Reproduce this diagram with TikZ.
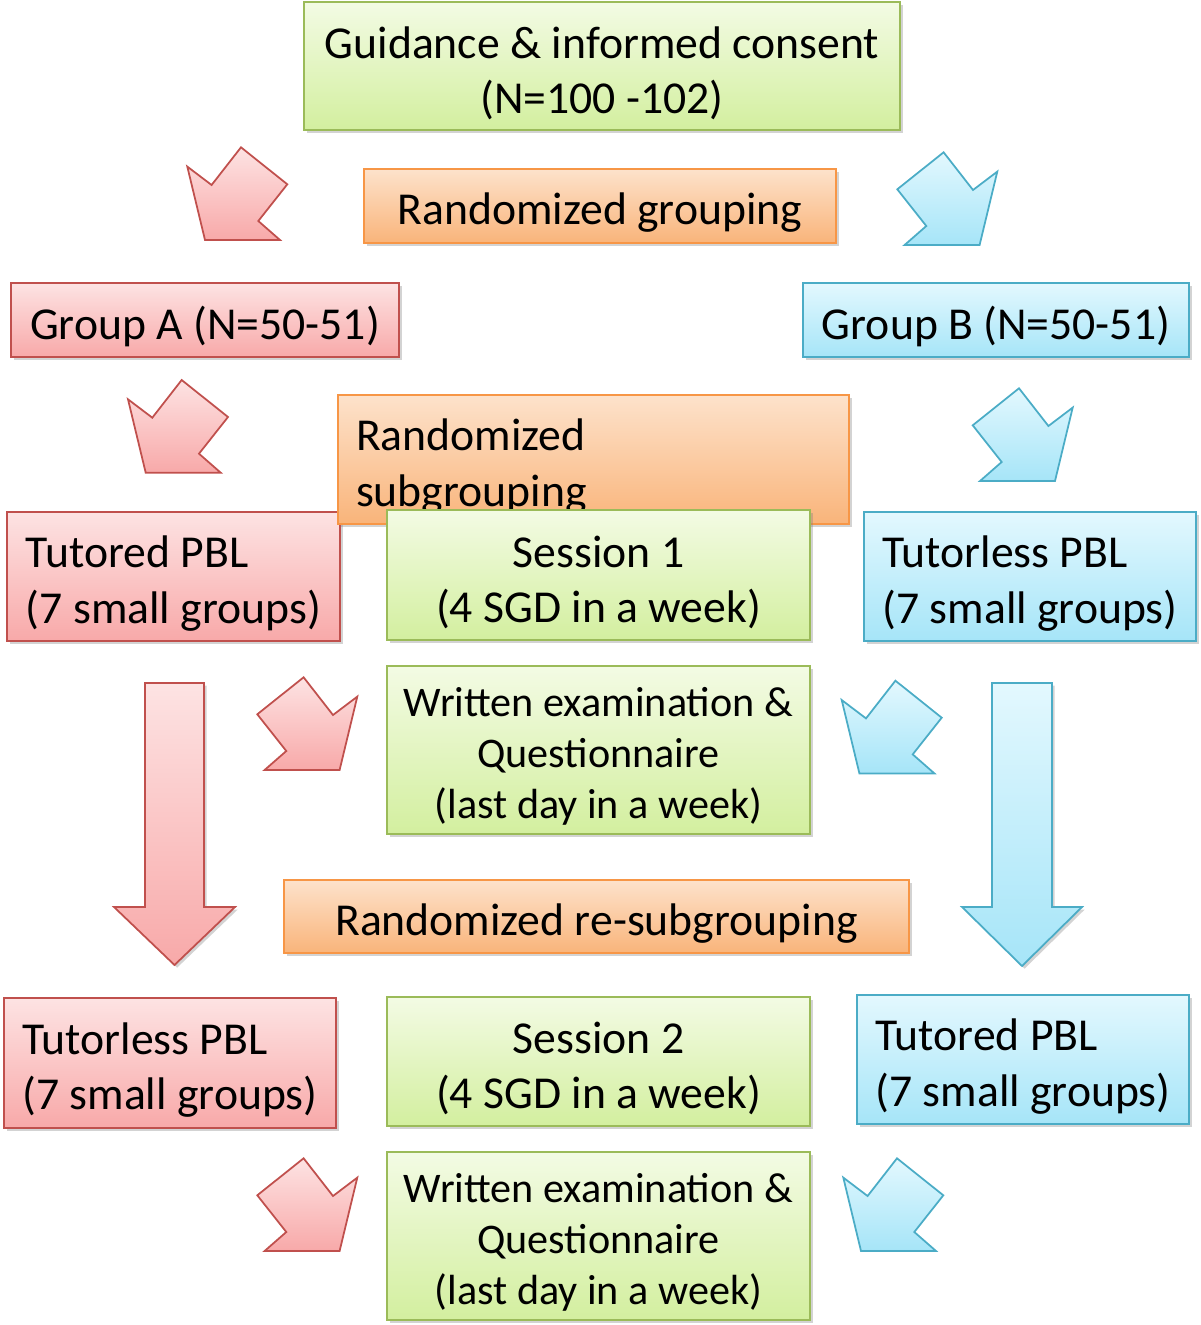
\documentclass[tikz,border=0pt]{standalone}
\usepackage{fontspec}
\setmainfont{Carlito}
\usepackage{tikz}
\usetikzlibrary{shadows}

\definecolor{redline}{HTML}{C0504D}
\definecolor{redtop}{HTML}{FDE3E3}
\definecolor{redbot}{HTML}{F8A9A9}
\definecolor{blueline}{HTML}{4BACC6}
\definecolor{bluetop}{HTML}{E3F8FE}
\definecolor{bluebot}{HTML}{A6E5F8}
\definecolor{greenline}{HTML}{9BBB59}
\definecolor{greentop}{HTML}{F3FBE4}
\definecolor{greenbot}{HTML}{D3EF9F}
\definecolor{orangeline}{HTML}{F79646}
\definecolor{orangetop}{HTML}{FDE2CB}
\definecolor{orangebot}{HTML}{F9B47A}

% taller first line, so the text sits a bit lower in its box
\newcommand{\lineup}{\rule{0pt}{1em}}

\tikzset{
    bentarrow/.pic={
        \draw [pic actions] (0,19.3) -- (24.3,37.7) -- (53.7,0) -- (100,37) -- (71,73.7)
            -- (92.7,92.7) -- (17.7,92.7) -- cycle;
    }
}

\begin{document}
\begin{tikzpicture}[x=0.02cm,y=-0.02cm,line width=1pt,
    shade/.style={drop shadow={shadow xshift=1.5pt,shadow yshift=-1.5pt,opacity=0.35}},
    box/.style={shade,inner sep=0pt,font=\fontsize{26}{31.5}\selectfont,align=center},
    exambox/.style={greenbox,font=\fontsize{24}{29}\selectfont},
    redbox/.style={box,draw=redline,top color=redtop,bottom color=redbot},
    bluebox/.style={box,draw=blueline,top color=bluetop,bottom color=bluebot},
    greenbox/.style={box,draw=greenline,top color=greentop,bottom color=greenbot},
    orangebox/.style={box,draw=orangeline,top color=orangetop,bottom color=orangebot},
    redarrow/.style={shade,draw=redline,top color=redtop,bottom color=redbot},
    bluearrow/.style={shade,draw=blueline,top color=bluetop,bottom color=bluebot}]
    \useasboundingbox (0,0) rectangle (1200,1325);

    \node [greenbox, minimum width=11.92cm, minimum height=2.56cm] (guide) at (602, 66)
        {\lineup Guidance \& informed consent\\(N=100 -102)};
    \node [orangebox, minimum width=9.44cm, minimum height=1.48cm] (rgroup) at (600, 206)
        {\lineup Randomized grouping};
    \node [redbox, minimum width=7.76cm, minimum height=1.48cm] (grpA) at (205, 320)
        {\lineup Group A (N=50-51)};
    \node [bluebox, minimum width=7.72cm, minimum height=1.48cm] (grpB) at (996, 320)
        {\lineup Group B (N=50-51)};

    \node [redbox, align=left, minimum width=6.66cm, minimum height=2.58cm] (tutA) at (173.5, 576.5)
        {\lineup Tutored PBL\\(7 small groups)};
    \node [orangebox, text width=9.5cm, align=left, minimum width=10.22cm, minimum height=2.58cm] (rsub) at (593.5, 459.5)
        {\lineup Randomized\\subgrouping};
    \node [greenbox, minimum width=8.46cm, minimum height=2.6cm] (sess1) at (598.5, 575)
        {\lineup Session 1\\(4 SGD in a week)};
    \node [bluebox, align=left, minimum width=6.64cm, minimum height=2.58cm] (tlessB) at (1030, 576.5)
        {\lineup Tutorless PBL\\(7 small groups)};

    \node [exambox, minimum width=8.46cm, minimum height=3.36cm] (exam1) at (598.5, 750)
        {\lineup Written examination \&\\Questionnaire\\(last day in a week)};
    \node [orangebox, minimum width=12.5cm, minimum height=1.46cm] (rresub) at (596.5, 916.5)
        {\lineup Randomized re-subgrouping};

    \node [redbox, align=left, minimum width=6.64cm, minimum height=2.6cm] (tlessA) at (170, 1063)
        {\lineup Tutorless PBL\\(7 small groups)};
    \node [greenbox, minimum width=8.46cm, minimum height=2.58cm] (sess2) at (598.5, 1061.5)
        {\lineup Session 2\\(4 SGD in a week)};
    \node [bluebox, align=left, minimum width=6.64cm, minimum height=2.58cm] (tutB) at (1023, 1059.5)
        {\lineup Tutored PBL\\(7 small groups)};
    \node [exambox, minimum width=8.46cm, minimum height=3.36cm] (exam2) at (598.5, 1236)
        {\lineup Written examination \&\\Questionnaire\\(last day in a week)};

    % bent arrows
    \pic [redarrow] at (187.3, 147.3) {bentarrow};
    \pic [bluearrow, xscale=-1] at (997.3, 152.3) {bentarrow};
    \pic [redarrow] at (128, 380) {bentarrow};
    \pic [bluearrow, xscale=-1] at (1072.7, 388.3) {bentarrow};
    \pic [redarrow, xscale=-1] at (357.3, 677.3) {bentarrow};
    \pic [bluearrow] at (841.7, 680.7) {bentarrow};
    \pic [redarrow, xscale=-1] at (357.3, 1158.3) {bentarrow};
    \pic [bluearrow] at (843.3, 1158.3) {bentarrow};

    % long arrows
    \draw [redarrow] (145, 683) -- (204, 683) -- (204, 907) -- (235, 907) -- (174.5, 965)
        -- (114, 907) -- (145, 907) -- cycle;
    \draw [bluearrow] (992, 683) -- (1052, 683) -- (1052, 907) -- (1082, 907) -- (1022, 966)
        -- (962, 907) -- (992, 907) -- cycle;
\end{tikzpicture}
\end{document}
